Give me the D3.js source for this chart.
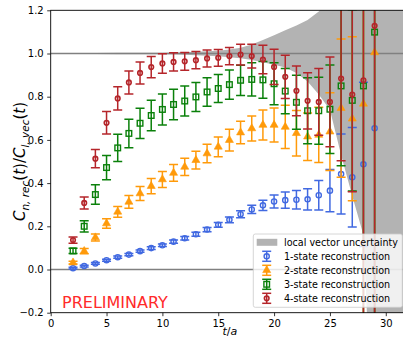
<!DOCTYPE html>
<html>
<head>
<meta charset="utf-8">
<script src="https://cdn.jsdelivr.net/npm/d3@7"></script>
<style>
	body { margin: 0; background: #fff; }
	svg { display: block; font-family: 'DejaVu Sans', sans-serif; }
</style>
</head>
<body>
<svg id="chart"></svg>
<script>
const WIDTH = 403;
const HEIGHT = 338;

// euclidean time slices
const times = [2, 3, 4, 5, 6, 7, 8, 9, 10, 11, 12, 13, 14, 15, 16, 17, 18, 19, 20, 21, 22, 23, 24, 25, 26, 27, 28, 29];

const oneState = [0.006, 0.016, 0.028, 0.043, 0.057, 0.069, 0.085, 0.099, 0.112, 0.129, 0.145, 0.163, 0.185, 0.207, 0.23, 0.256, 0.278, 0.297, 0.315, 0.321, 0.323, 0.325, 0.344, 0.365, 0.442, 0.427, 0.487, 0.654];
const oneStateErr = [0.004, 0.004, 0.004, 0.005, 0.005, 0.005, 0.005, 0.006, 0.006, 0.007, 0.008, 0.009, 0.01, 0.011, 0.013, 0.016, 0.019, 0.024, 0.03, 0.038, 0.043, 0.049, 0.068, 0.098, 0.185, 0.23, 0.38, 1.2];

const twoState = [0.032, 0.085, 0.148, 0.213, 0.267, 0.313, 0.352, 0.386, 0.417, 0.447, 0.475, 0.506, 0.537, 0.568, 0.599, 0.634, 0.653, 0.669, 0.669, 0.66, 0.631, 0.615, 0.623, 0.638, 0.747, 0.698, 0.767, 1.005];
const twoStateErr = [0.006, 0.012, 0.016, 0.022, 0.025, 0.03, 0.032, 0.035, 0.037, 0.039, 0.04, 0.041, 0.043, 0.046, 0.05, 0.052, 0.058, 0.07, 0.079, 0.1, 0.105, 0.11, 0.128, 0.18, 0.32, 0.38, 1.5, 1.5];

const threeState = [0.086, 0.2, 0.347, 0.472, 0.563, 0.63, 0.677, 0.713, 0.741, 0.764, 0.78, 0.799, 0.822, 0.838, 0.856, 0.876, 0.88, 0.878, 0.86, 0.826, 0.774, 0.735, 0.735, 0.742, 0.85, 0.783, 0.85, 1.099];
const threeStateErr = [0.012, 0.026, 0.045, 0.056, 0.063, 0.066, 0.07, 0.071, 0.072, 0.071, 0.069, 0.067, 0.066, 0.065, 0.068, 0.07, 0.077, 0.085, 0.097, 0.105, 0.125, 0.153, 0.155, 0.205, 0.37, 0.42, 1.5, 1.5];

const fourState = [0.136, 0.308, 0.513, 0.679, 0.792, 0.866, 0.91, 0.937, 0.954, 0.961, 0.964, 0.969, 0.977, 0.98, 0.988, 0.995, 0.988, 0.972, 0.938, 0.892, 0.827, 0.781, 0.776, 0.776, 0.884, 0.81, 0.876, 1.128];
const fourStateErr = [0.014, 0.028, 0.042, 0.052, 0.054, 0.053, 0.051, 0.049, 0.045, 0.042, 0.041, 0.04, 0.039, 0.039, 0.04, 0.048, 0.055, 0.066, 0.082, 0.1, 0.115, 0.13, 0.155, 0.208, 0.38, 0.45, 1.5, 1.5];

// local vector uncertainty band around 1
const bandTimes = [0, 2, 4, 6, 8, 10, 12, 14, 15, 16, 17, 18, 19, 20, 21, 22, 23, 24, 25, 26, 27, 28, 29, 30, 32];
const bandUpper = [1.001, 1.002, 1.002, 1.003, 1.003, 1.004, 1.006, 1.01, 1.013, 1.018, 1.027, 1.042, 1.062, 1.085, 1.108, 1.13, 1.155, 1.195, 1.26, 1.4, 1.6, 2, 3, 3, 3];
const bandLower = [0.999, 0.998, 0.998, 0.997, 0.997, 0.996, 0.994, 0.99, 0.987, 0.983, 0.978, 0.97, 0.96, 0.948, 0.935, 0.91, 0.87, 0.81, 0.74, 0.53, 0.34, 0.16, -1, -1, -1];

const xTicks = [0, 5, 10, 15, 20, 25, 30];
const yTicks = [-0.2, 0, 0.2, 0.4, 0.6, 0.8, 1.0, 1.2];
const referenceLines = [0, 1];
const legendLabels = [
	'local vector uncertainty',
	'1-state reconstruction',
	'2-state reconstruction',
	'3-state reconstruction',
	'4-state reconstruction'
];

const PLOT = { left: 50.7, right: 407, top: 10.3, bottom: 312.7 };

const x = d3.scaleLinear().domain([0, 31.9]).range([PLOT.left, PLOT.right]);
const y = d3.scaleLinear().domain([-0.2, 1.2]).range([PLOT.bottom, PLOT.top]);

const series = [
	{ label: legendLabels[1], values: oneState, errors: oneStateErr, color: '#4169e1', marker: 'circle' },
	{ label: legendLabels[2], values: twoState, errors: twoStateErr, color: '#ff9a0a', marker: 'triangle' },
	{ label: legendLabels[3], values: threeState, errors: threeStateErr, color: '#0a800a', marker: 'square' },
	{ label: legendLabels[4], values: fourState, errors: fourStateErr, color: '#b5252a', marker: 'smallCircle' }
];

const CAP = 4.5;

const svg = d3.select('#chart').attr('width', WIDTH).attr('height', HEIGHT);

svg.append('defs')
	.append('clipPath')
	.attr('id', 'plot-clip')
	.append('rect')
	.attr('x', PLOT.left)
	.attr('y', PLOT.top)
	.attr('width', PLOT.right - PLOT.left)
	.attr('height', PLOT.bottom - PLOT.top);

const canvas = svg.append('g').attr('clip-path', 'url(#plot-clip)');

// BAND
const bandData = bandTimes.map((t, i) => ({ t, lo: bandLower[i], hi: bandUpper[i] }));
canvas.append('path')
	.datum(bandData)
	.attr('fill', '#b3b3b3')
	.attr('d', d3.area()
		.x((d) => x(d.t))
		.y0((d) => y(d.lo))
		.y1((d) => y(d.hi)));

canvas.selectAll('line.ref')
	.data(referenceLines)
	.enter()
	.append('line')
	.attr('class', 'ref')
	.attr('x1', PLOT.left)
	.attr('x2', PLOT.right)
	.attr('y1', (d) => y(d))
	.attr('y2', (d) => y(d))
	.attr('stroke', '#808080')
	.attr('stroke-width', 1.3);

function drawMarker(sel, kind, color) {
	if (kind === 'circle') {
		sel.append('circle').attr('r', 2.6).attr('fill', 'none').attr('stroke', color).attr('stroke-width', 1.4);
	} else if (kind === 'smallCircle') {
		sel.append('circle').attr('r', 2.3).attr('fill', 'none').attr('stroke', color).attr('stroke-width', 1.6);
	} else if (kind === 'square') {
		sel.append('rect').attr('x', -2.8).attr('y', -2.8).attr('width', 5.6).attr('height', 5.6)
			.attr('fill', 'none').attr('stroke', color).attr('stroke-width', 1.4);
	} else {
		sel.append('path').attr('d', d3.symbol(d3.symbolTriangle, 28)()).attr('fill', color)
			.attr('stroke', color).attr('stroke-width', 0.6);
	}
}

// ERRORBARS
series.forEach((s) => {
	const points = times.map((t, i) => ({ t, v: s.values[i], e: s.errors[i] }));
	const group = canvas.append('g').attr('class', 'series');

	group.selectAll('line.bar')
		.data(points)
		.enter()
		.append('line')
		.attr('class', 'bar')
		.attr('x1', (d) => x(d.t))
		.attr('x2', (d) => x(d.t))
		.attr('y1', (d) => y(d.v - d.e))
		.attr('y2', (d) => y(d.v + d.e))
		.attr('stroke', s.color)
		.attr('stroke-width', 1.5);

	['lo', 'hi'].forEach((side) => {
		group.selectAll(`line.cap-${side}`)
			.data(points)
			.enter()
			.append('line')
			.attr('class', `cap-${side}`)
			.attr('x1', (d) => x(d.t) - CAP)
			.attr('x2', (d) => x(d.t) + CAP)
			.attr('y1', (d) => y(side === 'lo' ? d.v - d.e : d.v + d.e))
			.attr('y2', (d) => y(side === 'lo' ? d.v - d.e : d.v + d.e))
			.attr('stroke', s.color)
			.attr('stroke-width', 1.5);
	});

	const markers = group.selectAll('g.marker')
		.data(points)
		.enter()
		.append('g')
		.attr('class', 'marker')
		.attr('transform', (d) => `translate(${x(d.t)},${y(d.v)})`);
	drawMarker(markers, s.marker, s.color);
});

// AXES
const xAxis = svg.append('g')
	.attr('transform', `translate(0,${PLOT.bottom})`)
	.call(d3.axisBottom(x).tickValues(xTicks).tickSize(3.5).tickPadding(3.5).tickFormat(d3.format('d')));
const yAxis = svg.append('g')
	.attr('transform', `translate(${PLOT.left},0)`)
	.call(d3.axisLeft(y).tickValues(yTicks).tickSize(3.5).tickPadding(3.5).tickFormat(d3.format('.1f')));

[xAxis, yAxis].forEach((axis) => {
	axis.select('.domain').remove();
	axis.selectAll('.tick line').attr('stroke', '#000').attr('stroke-width', 0.8);
	axis.selectAll('.tick text')
		.attr('fill', '#000')
		.attr('font-size', 10)
		.attr('font-family', 'DejaVu Sans');
});

svg.append('rect')
	.attr('x', PLOT.left)
	.attr('y', PLOT.top)
	.attr('width', PLOT.right - PLOT.left)
	.attr('height', PLOT.bottom - PLOT.top)
	.attr('fill', 'none')
	.attr('stroke', '#000')
	.attr('stroke-width', 0.9);

// LABELS
const yLabel = svg.append('text')
	.attr('transform', `translate(25,${(PLOT.top + PLOT.bottom) / 2}) rotate(-90)`)
	.attr('text-anchor', 'middle')
	.attr('fill', '#000');
[
	['C', 15, 0, 'italic'],
	['n, rec', 10.5, 3.5, 'italic'],
	['(', 15, -3.5, 'normal'],
	['t', 15, 0, 'italic'],
	[')/', 15, 0, 'normal'],
	['C', 15, 0, 'italic'],
	['l, vec', 10.5, 3.5, 'italic'],
	['(', 15, -3.5, 'normal'],
	['t', 15, 0, 'italic'],
	[')', 15, 0, 'normal']
].forEach(([txt, size, dy, style]) => {
	yLabel.append('tspan')
		.attr('font-size', size)
		.attr('dy', dy)
		.attr('font-style', style)
		.text(txt);
});

const xLabel = svg.append('text')
	.attr('x', (PLOT.left + PLOT.right) / 2 + 1)
	.attr('y', 335)
	.attr('text-anchor', 'middle')
	.attr('font-size', 11)
	.attr('fill', '#000');
xLabel.append('tspan').attr('font-style', 'italic').text('t');
xLabel.append('tspan').text('/');
xLabel.append('tspan').attr('font-style', 'italic').text('a');

svg.append('text')
	.attr('x', 62)
	.attr('y', 307.5)
	.attr('font-size', 16)
	.attr('fill', '#ff2a2a')
	.text('PRELIMINARY');

// LEGEND
const legend = svg.append('g').attr('transform', 'translate(253.3,234)');
legend.append('rect')
	.attr('width', 149)
	.attr('height', 73.3)
	.attr('rx', 2)
	.attr('fill', '#fff')
	.attr('fill-opacity', 0.8)
	.attr('stroke', '#cccccc')
	.attr('stroke-width', 0.8);

const ROW = 14;
legend.append('rect')
	.attr('x', 3.4)
	.attr('y', 8.3 - 3.5)
	.attr('width', 20.6)
	.attr('height', 7)
	.attr('fill', '#b3b3b3');

const entries = legend.selectAll('g.entry')
	.data(series)
	.enter()
	.append('g')
	.attr('class', 'entry')
	.attr('transform', (d, i) => `translate(13.4,${8.3 + ROW * (i + 1)})`);
entries.append('line').attr('y1', -5).attr('y2', 5).attr('stroke', (d) => d.color).attr('stroke-width', 1.5);
entries.append('line').attr('x1', -CAP).attr('x2', CAP).attr('y1', -5).attr('y2', -5).attr('stroke', (d) => d.color).attr('stroke-width', 1.5);
entries.append('line').attr('x1', -CAP).attr('x2', CAP).attr('y1', 5).attr('y2', 5).attr('stroke', (d) => d.color).attr('stroke-width', 1.5);
entries.each(function (d) {
	drawMarker(d3.select(this), d.marker, d.color);
});

legend.selectAll('text')
	.data(legendLabels)
	.enter()
	.append('text')
	.attr('x', 30.7)
	.attr('y', (d, i) => 8.3 + ROW * i)
	.attr('dy', '0.35em')
	.attr('font-size', 9.6)
	.attr('fill', '#000')
	.text((d) => d);
</script>
</body>
</html>
